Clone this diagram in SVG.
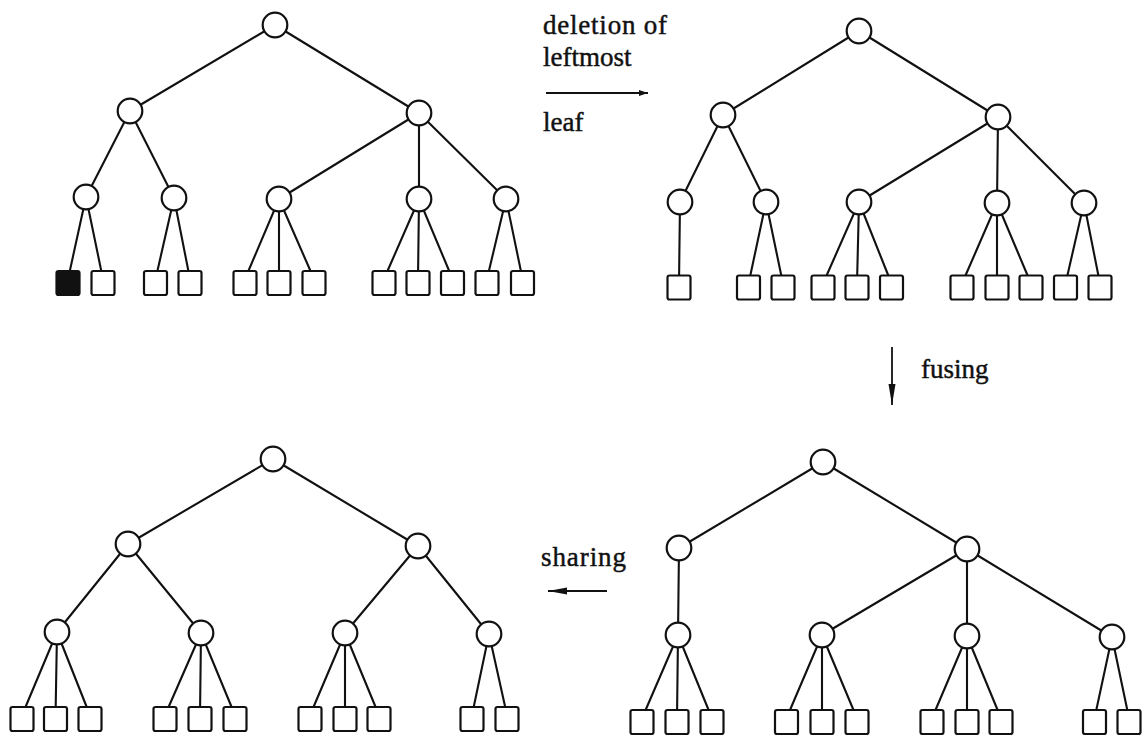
<svg xmlns="http://www.w3.org/2000/svg" width="1148" height="738" viewBox="0 0 1148 738">
<style>
.n{fill:#fff;stroke:#111;stroke-width:2.2}
.lf{fill:#fff;stroke:#111;stroke-width:2.2}
.blk{fill:#111}
.e{stroke:#111;stroke-width:2.1;fill:none;stroke-linecap:round}
.ar{stroke:#111;stroke-width:1.8;fill:none}
.t{font-family:"Liberation Serif","Times New Roman",serif;font-size:27px;fill:#111;stroke:#111;stroke-width:0.45}
</style>
<defs>
<marker id="hs" markerUnits="userSpaceOnUse" markerWidth="10" markerHeight="8" refX="9" refY="4" orient="auto"><path d="M0,1 L9,4 L0,7 Z" fill="#111"/></marker>
<marker id="hl" markerUnits="userSpaceOnUse" markerWidth="22" markerHeight="10" refX="21" refY="5" orient="auto"><path d="M0,1.5 L21,5 L0,8.5 Z" fill="#111"/></marker>
<marker id="hm" markerUnits="userSpaceOnUse" markerWidth="20" markerHeight="10" refX="19" refY="5" orient="auto"><path d="M0,1.5 L19,5 L0,8.5 Z" fill="#111"/></marker>
</defs>
<g id="connectors">
<!-- top-left tree -->
<line class="e" x1="275" y1="25" x2="130" y2="111"/>
<line class="e" x1="275" y1="25" x2="419" y2="113"/>
<line class="e" x1="130" y1="111" x2="86" y2="197"/>
<line class="e" x1="130" y1="111" x2="174" y2="198"/>
<line class="e" x1="419" y1="113" x2="279" y2="199"/>
<line class="e" x1="419" y1="113" x2="419" y2="199"/>
<line class="e" x1="419" y1="113" x2="506" y2="199"/>
<line class="e" x1="86" y1="197" x2="69.8" y2="271"/>
<line class="e" x1="86" y1="197" x2="101.3" y2="271"/>
<line class="e" x1="174" y1="198" x2="157.4" y2="271"/>
<line class="e" x1="174" y1="198" x2="188.4" y2="271"/>
<line class="e" x1="279" y1="199" x2="248.4" y2="271"/>
<line class="e" x1="279" y1="199" x2="279" y2="271"/>
<line class="e" x1="279" y1="199" x2="310.5" y2="271"/>
<line class="e" x1="419" y1="199" x2="387.5" y2="271"/>
<line class="e" x1="419" y1="199" x2="418.1" y2="271"/>
<line class="e" x1="419" y1="199" x2="449.2" y2="271"/>
<line class="e" x1="506" y1="199" x2="488.9" y2="271"/>
<line class="e" x1="506" y1="199" x2="520.9" y2="271"/>
<!-- top-right tree -->
<line class="e" x1="859" y1="31" x2="723" y2="115"/>
<line class="e" x1="859" y1="31" x2="998" y2="117"/>
<line class="e" x1="723" y1="115" x2="680" y2="202"/>
<line class="e" x1="723" y1="115" x2="766" y2="202"/>
<line class="e" x1="998" y1="117" x2="859" y2="202"/>
<line class="e" x1="998" y1="117" x2="997" y2="203"/>
<line class="e" x1="998" y1="117" x2="1084" y2="203"/>
<line class="e" x1="680" y1="202" x2="679.1" y2="275.5"/>
<line class="e" x1="766" y1="202" x2="750.3" y2="275.5"/>
<line class="e" x1="766" y1="202" x2="781.3" y2="275.5"/>
<line class="e" x1="859" y1="202" x2="826.6" y2="275.5"/>
<line class="e" x1="859" y1="202" x2="857.2" y2="275.5"/>
<line class="e" x1="859" y1="202" x2="888.3" y2="275.5"/>
<line class="e" x1="997" y1="203" x2="965.5" y2="275.5"/>
<line class="e" x1="997" y1="203" x2="997" y2="275.5"/>
<line class="e" x1="997" y1="203" x2="1027.6" y2="275.5"/>
<line class="e" x1="1084" y1="203" x2="1067.4" y2="275.5"/>
<line class="e" x1="1084" y1="203" x2="1098.4" y2="275.5"/>
<!-- bottom-left tree -->
<line class="e" x1="273" y1="459" x2="128" y2="544"/>
<line class="e" x1="273" y1="459" x2="418" y2="546"/>
<line class="e" x1="128" y1="544" x2="57" y2="632"/>
<line class="e" x1="128" y1="544" x2="201" y2="633"/>
<line class="e" x1="418" y1="546" x2="345" y2="633"/>
<line class="e" x1="418" y1="546" x2="489" y2="634"/>
<line class="e" x1="57" y1="632" x2="25.5" y2="707"/>
<line class="e" x1="57" y1="632" x2="55.7" y2="707"/>
<line class="e" x1="57" y1="632" x2="86.7" y2="707"/>
<line class="e" x1="201" y1="633" x2="168.6" y2="707"/>
<line class="e" x1="201" y1="633" x2="200.1" y2="707"/>
<line class="e" x1="201" y1="633" x2="231.6" y2="707"/>
<line class="e" x1="345" y1="633" x2="313.5" y2="707"/>
<line class="e" x1="345" y1="633" x2="345" y2="707"/>
<line class="e" x1="345" y1="633" x2="375.6" y2="707"/>
<line class="e" x1="489" y1="634" x2="473.7" y2="707"/>
<line class="e" x1="489" y1="634" x2="505.2" y2="707"/>
<!-- bottom-right tree -->
<line class="e" x1="823" y1="462" x2="679" y2="548"/>
<line class="e" x1="823" y1="462" x2="967" y2="549"/>
<line class="e" x1="679" y1="548" x2="678" y2="635"/>
<line class="e" x1="967" y1="549" x2="822" y2="635"/>
<line class="e" x1="967" y1="549" x2="967" y2="636"/>
<line class="e" x1="967" y1="549" x2="1112" y2="637"/>
<line class="e" x1="678" y1="635" x2="645.6" y2="710"/>
<line class="e" x1="678" y1="635" x2="677.1" y2="710"/>
<line class="e" x1="678" y1="635" x2="708.6" y2="710"/>
<line class="e" x1="822" y1="635" x2="790" y2="710"/>
<line class="e" x1="822" y1="635" x2="822" y2="710"/>
<line class="e" x1="822" y1="635" x2="853.5" y2="710"/>
<line class="e" x1="967" y1="636" x2="935.5" y2="710"/>
<line class="e" x1="967" y1="636" x2="967" y2="710"/>
<line class="e" x1="967" y1="636" x2="997.6" y2="710"/>
<line class="e" x1="1112" y1="637" x2="1096.3" y2="710"/>
<line class="e" x1="1112" y1="637" x2="1127.3" y2="710"/>
<!-- transformation arrows -->
<line class="ar" x1="546" y1="93" x2="648" y2="93" marker-end="url(#hs)"/>
<line class="ar" x1="892" y1="347" x2="892" y2="405" marker-end="url(#hl)"/>
<line class="ar" x1="607" y1="591" x2="548" y2="591" stroke-width="2.2" marker-end="url(#hm)"/>
</g>
<g id="labels">
<text class="t" x="543" y="34" textLength="124" lengthAdjust="spacing">deletion of</text>
<text class="t" x="543" y="66">leftmost</text>
<text class="t" x="543" y="131">leaf</text>
<text class="t" x="921" y="378">fusing</text>
<text class="t" x="541" y="566" textLength="85" lengthAdjust="spacing">sharing</text>
</g>
<!-- top-left tree nodes -->
<g id="tl-root"><circle class="n" cx="275" cy="25" r="12.3"/></g>
<g id="tl-a"><circle class="n" cx="130" cy="111" r="12.3"/></g>
<g id="tl-b"><circle class="n" cx="419" cy="113" r="12.3"/></g>
<g id="tl-c1"><circle class="n" cx="86" cy="197" r="12.3"/></g>
<g id="tl-c2"><circle class="n" cx="174" cy="198" r="12.3"/></g>
<g id="tl-c3"><circle class="n" cx="279" cy="199" r="12.3"/></g>
<g id="tl-c4"><circle class="n" cx="419" cy="199" r="12.3"/></g>
<g id="tl-c5"><circle class="n" cx="506" cy="199" r="12.3"/></g>
<g id="tl-l1"><rect class="lf blk" x="56.5" y="271" width="23" height="24" rx="2"/></g>
<g id="tl-l2"><rect class="lf" x="91.5" y="271" width="23" height="24" rx="2"/></g>
<g id="tl-l3"><rect class="lf" x="144" y="271" width="23" height="24" rx="2"/></g>
<g id="tl-l4"><rect class="lf" x="178.5" y="271" width="23" height="24" rx="2"/></g>
<g id="tl-l5"><rect class="lf" x="233.5" y="271" width="23" height="24" rx="2"/></g>
<g id="tl-l6"><rect class="lf" x="267.5" y="271" width="23" height="24" rx="2"/></g>
<g id="tl-l7"><rect class="lf" x="302.5" y="271" width="23" height="24" rx="2"/></g>
<g id="tl-l8"><rect class="lf" x="372.5" y="271" width="23" height="24" rx="2"/></g>
<g id="tl-l9"><rect class="lf" x="406.5" y="271" width="23" height="24" rx="2"/></g>
<g id="tl-l10"><rect class="lf" x="441" y="271" width="23" height="24" rx="2"/></g>
<g id="tl-l11"><rect class="lf" x="475.5" y="271" width="23" height="24" rx="2"/></g>
<g id="tl-l12"><rect class="lf" x="511" y="271" width="23" height="24" rx="2"/></g>
<!-- top-right tree nodes -->
<g id="tr-root"><circle class="n" cx="859" cy="31" r="12.3"/></g>
<g id="tr-a"><circle class="n" cx="723" cy="115" r="12.3"/></g>
<g id="tr-b"><circle class="n" cx="998" cy="117" r="12.3"/></g>
<g id="tr-c1"><circle class="n" cx="680" cy="202" r="12.3"/></g>
<g id="tr-c2"><circle class="n" cx="766" cy="202" r="12.3"/></g>
<g id="tr-c3"><circle class="n" cx="859" cy="202" r="12.3"/></g>
<g id="tr-c4"><circle class="n" cx="997" cy="203" r="12.3"/></g>
<g id="tr-c5"><circle class="n" cx="1084" cy="203" r="12.3"/></g>
<g id="tr-l1"><rect class="lf" x="667.5" y="275.5" width="23" height="24" rx="2"/></g>
<g id="tr-l2"><rect class="lf" x="737" y="275.5" width="23" height="24" rx="2"/></g>
<g id="tr-l3"><rect class="lf" x="771.5" y="275.5" width="23" height="24" rx="2"/></g>
<g id="tr-l4"><rect class="lf" x="811.5" y="275.5" width="23" height="24" rx="2"/></g>
<g id="tr-l5"><rect class="lf" x="845.5" y="275.5" width="23" height="24" rx="2"/></g>
<g id="tr-l6"><rect class="lf" x="880" y="275.5" width="23" height="24" rx="2"/></g>
<g id="tr-l7"><rect class="lf" x="950.5" y="275.5" width="23" height="24" rx="2"/></g>
<g id="tr-l8"><rect class="lf" x="985.5" y="275.5" width="23" height="24" rx="2"/></g>
<g id="tr-l9"><rect class="lf" x="1019.5" y="275.5" width="23" height="24" rx="2"/></g>
<g id="tr-l10"><rect class="lf" x="1054" y="275.5" width="23" height="24" rx="2"/></g>
<g id="tr-l11"><rect class="lf" x="1088.5" y="275.5" width="23" height="24" rx="2"/></g>
<!-- bottom-left tree nodes -->
<g id="bl-root"><circle class="n" cx="273" cy="459" r="12.3"/></g>
<g id="bl-a"><circle class="n" cx="128" cy="544" r="12.3"/></g>
<g id="bl-b"><circle class="n" cx="418" cy="546" r="12.3"/></g>
<g id="bl-c1"><circle class="n" cx="57" cy="632" r="12.3"/></g>
<g id="bl-c2"><circle class="n" cx="201" cy="633" r="12.3"/></g>
<g id="bl-c3"><circle class="n" cx="345" cy="633" r="12.3"/></g>
<g id="bl-c4"><circle class="n" cx="489" cy="634" r="12.3"/></g>
<g id="bl-l1"><rect class="lf" x="10.5" y="707" width="23" height="24" rx="2"/></g>
<g id="bl-l2"><rect class="lf" x="44" y="707" width="23" height="24" rx="2"/></g>
<g id="bl-l3"><rect class="lf" x="78.5" y="707" width="23" height="24" rx="2"/></g>
<g id="bl-l4"><rect class="lf" x="153.5" y="707" width="23" height="24" rx="2"/></g>
<g id="bl-l5"><rect class="lf" x="188.5" y="707" width="23" height="24" rx="2"/></g>
<g id="bl-l6"><rect class="lf" x="223.5" y="707" width="23" height="24" rx="2"/></g>
<g id="bl-l7"><rect class="lf" x="298.5" y="707" width="23" height="24" rx="2"/></g>
<g id="bl-l8"><rect class="lf" x="333.5" y="707" width="23" height="24" rx="2"/></g>
<g id="bl-l9"><rect class="lf" x="367.5" y="707" width="23" height="24" rx="2"/></g>
<g id="bl-l10"><rect class="lf" x="460.5" y="707" width="23" height="24" rx="2"/></g>
<g id="bl-l11"><rect class="lf" x="495.5" y="707" width="23" height="24" rx="2"/></g>
<!-- bottom-right tree nodes -->
<g id="br-root"><circle class="n" cx="823" cy="462" r="12.3"/></g>
<g id="br-a"><circle class="n" cx="679" cy="548" r="12.3"/></g>
<g id="br-b"><circle class="n" cx="967" cy="549" r="12.3"/></g>
<g id="br-c1"><circle class="n" cx="678" cy="635" r="12.3"/></g>
<g id="br-c2"><circle class="n" cx="822" cy="635" r="12.3"/></g>
<g id="br-c3"><circle class="n" cx="967" cy="636" r="12.3"/></g>
<g id="br-c4"><circle class="n" cx="1112" cy="637" r="12.3"/></g>
<g id="br-l1"><rect class="lf" x="630.5" y="710" width="23" height="24" rx="2"/></g>
<g id="br-l2"><rect class="lf" x="665.5" y="710" width="23" height="24" rx="2"/></g>
<g id="br-l3"><rect class="lf" x="700.5" y="710" width="23" height="24" rx="2"/></g>
<g id="br-l4"><rect class="lf" x="775" y="710" width="23" height="24" rx="2"/></g>
<g id="br-l5"><rect class="lf" x="810.5" y="710" width="23" height="24" rx="2"/></g>
<g id="br-l6"><rect class="lf" x="845.5" y="710" width="23" height="24" rx="2"/></g>
<g id="br-l7"><rect class="lf" x="920.5" y="710" width="23" height="24" rx="2"/></g>
<g id="br-l8"><rect class="lf" x="955.5" y="710" width="23" height="24" rx="2"/></g>
<g id="br-l9"><rect class="lf" x="989.5" y="710" width="23" height="24" rx="2"/></g>
<g id="br-l10"><rect class="lf" x="1083" y="710" width="23" height="24" rx="2"/></g>
<g id="br-l11"><rect class="lf" x="1117.5" y="710" width="23" height="24" rx="2"/></g>
</svg>
